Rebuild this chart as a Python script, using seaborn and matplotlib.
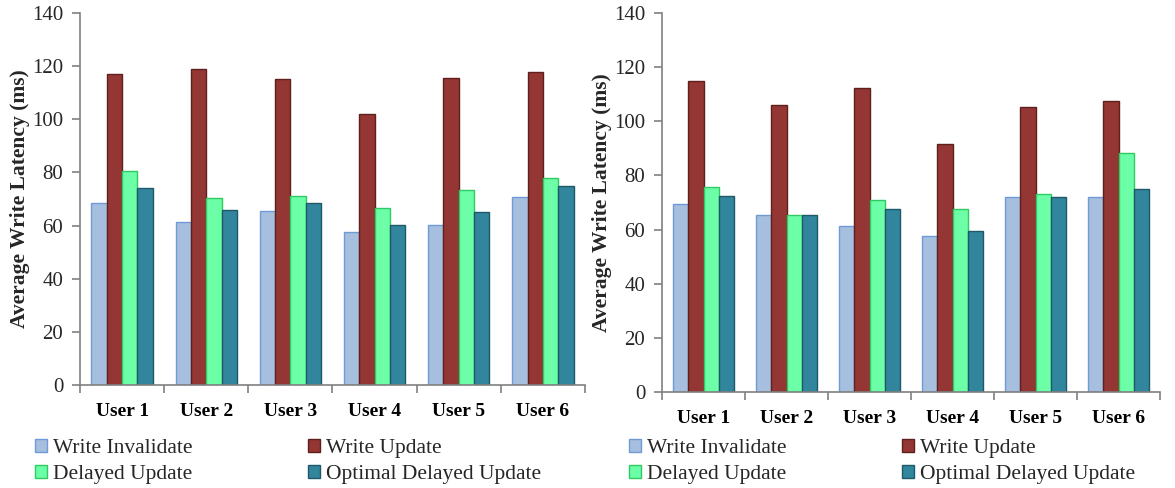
import matplotlib
matplotlib.use("Agg")
import matplotlib.pyplot as plt
from matplotlib.patches import Patch
from matplotlib.ticker import FixedLocator
import seaborn as sns
import pandas as pd

users = ["User 1", "User 2", "User 3", "User 4", "User 5", "User 6"]
schemes = ["Write Invalidate", "Write Update", "Delayed Update", "Optimal Delayed Update"]

# Left panel
left_write_invalidate = [68.5, 61.5, 65.5, 57.6, 60.1, 70.6]
left_write_update = [116.9, 118.8, 115.3, 101.9, 115.7, 117.9]
left_delayed_update = [80.5, 70.2, 71.0, 66.6, 73.2, 77.9]
left_optimal_delayed = [74.0, 65.9, 68.5, 60.2, 65.0, 74.9]

# Right panel
right_write_invalidate = [69.6, 65.4, 61.5, 57.6, 72.1, 72.1]
right_write_update = [114.7, 106.2, 112.2, 91.7, 105.4, 107.6]
right_delayed_update = [75.6, 65.4, 70.9, 67.6, 73.0, 88.3]
right_optimal_delayed = [72.5, 65.4, 67.6, 59.5, 72.1, 75.1]

y_ticks = [0, 20, 40, 60, 80, 100, 120, 140]
y_label = "Average Write Latency (ms)"

fills = ["#A7BFDE", "#943634", "#6CFFA8", "#31859C"]
edges = ["#6E9AD8", "#5E1F1D", "#2FCB62", "#1F5868"]

SERIF = ["Liberation Serif", "DejaVu Serif"]


def make_df(series):
    rows = []
    for scheme, vals in zip(schemes, series):
        for u, v in zip(users, vals):
            rows.append({"user": u, "scheme": scheme, "latency": v})
    return pd.DataFrame(rows)


sns.set_theme(style="white")
plt.rcParams["font.family"] = SERIF

fig = plt.figure(figsize=(11.75, 4.88), dpi=100)
W, H = 1175, 488

panels = [
    ([left_write_invalidate, left_write_update, left_delayed_update, left_optimal_delayed],
     (80, 585, 13, 385), 35),
    ([right_write_invalidate, right_write_update, right_delayed_update, right_optimal_delayed],
     (662, 1160, 13, 392), 629),
]

spine_col = "#808080"

for series, (x0, x1, ytop, ybot), leg_x in panels:
    ax = fig.add_axes([x0 / W, 1 - ybot / H, (x1 - x0) / W, (ybot - ytop) / H])
    df = make_df(series)
    sns.barplot(data=df, x="user", y="latency", hue="scheme", hue_order=schemes,
                order=users, palette=fills, width=0.73, gap=0, ax=ax,
                legend=False, saturation=1, errorbar=None)
    for cont, ec in zip(ax.containers, edges):
        for bar in cont:
            bar.set_edgecolor(ec)
            bar.set_linewidth(1.0)
    ax.set_xlim(-0.5, 5.5)
    ax.set_ylim(0, 140)
    ax.set_yticks(y_ticks)
    ax.set_yticklabels([str(t) for t in y_ticks], fontsize=15, family=SERIF)
    ax.set_xticks(range(len(users)))
    ax.set_xticklabels(users, fontsize=14, fontweight="bold", family=SERIF)
    ax.set_xlabel("")
    ax.set_ylabel(y_label, fontsize=15.5, fontweight="bold", labelpad=1.5, family=SERIF)
    ax.xaxis.set_minor_locator(FixedLocator([i - 0.5 for i in range(7)]))
    ax.tick_params(axis="x", which="major", length=0, pad=13, colors="black")
    ax.tick_params(axis="x", which="minor", length=6, width=1.2, color=spine_col, direction="out", bottom=True)
    ax.tick_params(axis="y", which="major", length=6, width=1.2, color=spine_col, direction="out", left=True, pad=6)
    for s in ["top", "right"]:
        ax.spines[s].set_visible(False)
    for s in ["left", "bottom"]:
        ax.spines[s].set_color(spine_col)
        ax.spines[s].set_linewidth(1.2)
    ax.grid(False)

    handles = [Patch(facecolor=f, edgecolor=e, linewidth=1.0) for f, e in zip(fills, edges)]
    # legend is filled row-wise in the reference: reorder for column-major filling
    order = [0, 2, 1, 3]
    fig.legend([handles[i] for i in order], [schemes[i] for i in order], ncol=2, loc="upper left",
               bbox_to_anchor=(leg_x / W, 1 - 439 / H), frameon=False,
               prop={"family": SERIF, "size": 15.5}, borderpad=0, borderaxespad=0,
               handlelength=0.55, handleheight=0.55, handletextpad=0.3,
               columnspacing=5.35, labelspacing=0.3)

fig.savefig("out.png", dpi=100)
